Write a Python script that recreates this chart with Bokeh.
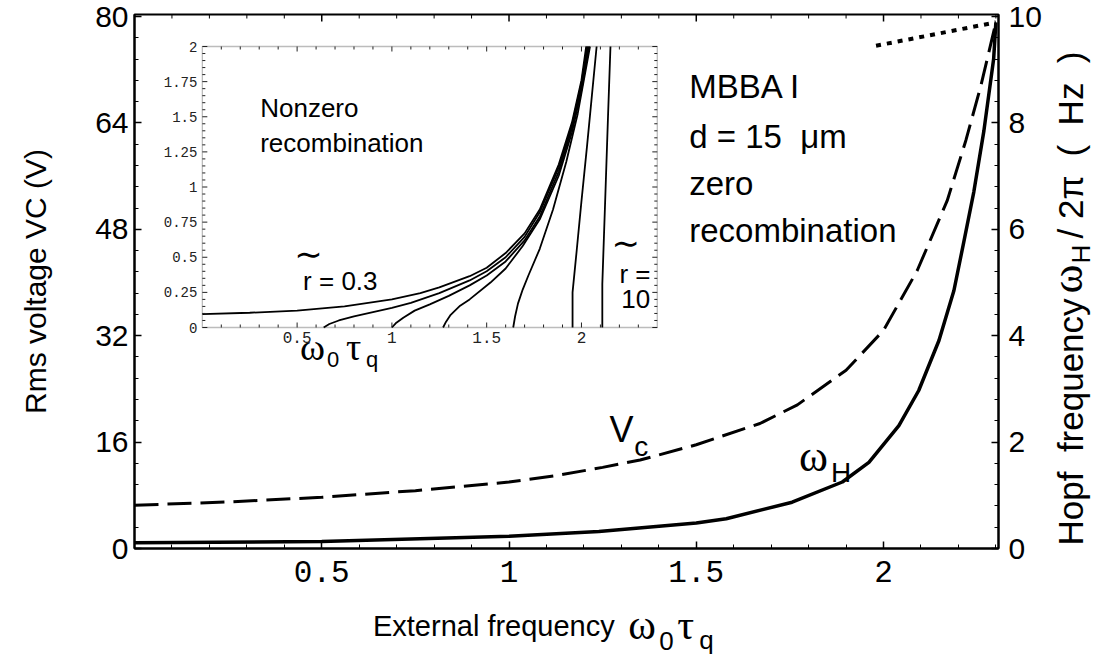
import numpy as np
from bokeh.plotting import figure
from bokeh.layouts import row, column
from bokeh.models import Range1d, LinearAxis, FixedTicker, Label, BoxAnnotation
from bokeh.embed import file_html
from bokeh.resources import INLINE
from bokeh.core.properties import value

# ---------------- main chart data ----------------
x_vc = [0.0, 0.25, 0.5, 0.75, 1.0, 1.13, 1.25, 1.35, 1.5, 1.67, 1.77, 1.9, 2.0, 2.09, 2.17, 2.22, 2.26, 2.30]
vc_volts = [6.5, 7.0, 7.7, 8.7, 10.0, 11.0, 12.2, 13.3, 15.6, 18.8, 21.6, 26.8, 32.8, 41.8, 52.3, 61.4, 69.6, 79.1]

x_wh = [0.0, 0.5, 1.0, 1.24, 1.5, 1.58, 1.756, 1.89, 1.961, 2.041, 2.094, 2.148, 2.188, 2.214, 2.241, 2.268, 2.294, 2.30]
wh_hz = [0.11, 0.13, 0.23, 0.32, 0.48, 0.56, 0.87, 1.25, 1.62, 2.31, 2.97, 3.91, 4.85, 5.75, 6.7, 7.85, 9.2, 9.89]

x_dot = [1.98, 2.30]
dot_hz = [9.45, 9.89]

x_ticks = [0.5, 1, 1.5, 2]
v_ticks = [0, 16, 32, 48, 64, 80]
hz_ticks = [0, 2, 4, 6, 8, 10]

# ---------------- inset data ----------------
c1x = [0, 0.25, 0.5, 0.75, 1.0, 1.15, 1.25, 1.41, 1.5, 1.6, 1.7, 1.78, 1.88, 1.95, 2.0, 2.025]
c1y = [0.095, 0.105, 0.12, 0.15, 0.2, 0.245, 0.285, 0.365, 0.425, 0.53, 0.67, 0.84, 1.16, 1.46, 1.76, 2.0]
c2x = [0.64, 0.67, 0.72, 0.8, 0.9, 1.0, 1.1, 1.25, 1.41, 1.5, 1.6, 1.7, 1.78, 1.88, 1.95, 2.0, 2.03]
c2y = [0.0, 0.025, 0.05, 0.08, 0.11, 0.14, 0.175, 0.245, 0.335, 0.4, 0.5, 0.645, 0.82, 1.14, 1.44, 1.74, 2.0]
c3x = [1.0, 1.02, 1.06, 1.12, 1.2, 1.3, 1.41, 1.5, 1.6, 1.7, 1.78, 1.88, 1.95, 2.0, 2.035]
c3y = [0.0, 0.03, 0.07, 0.12, 0.165, 0.225, 0.3, 0.37, 0.47, 0.62, 0.79, 1.11, 1.42, 1.72, 2.0]
c4x = [1.27, 1.285, 1.31, 1.36, 1.41, 1.52, 1.6, 1.69, 1.78, 1.88, 1.95, 2.0, 2.04]
c4y = [0.0, 0.04, 0.09, 0.155, 0.2, 0.32, 0.42, 0.58, 0.77, 1.08, 1.39, 1.69, 2.0]
c5x = [1.64, 1.65, 1.665, 1.69, 1.72, 1.78, 1.85, 1.92, 1.98, 2.045]
c5y = [0.0, 0.08, 0.17, 0.27, 0.37, 0.56, 0.84, 1.18, 1.52, 2.0]
c6x = [1.953, 1.953, 1.975, 2.0, 2.03, 2.055, 2.08]
c6y = [0.0, 0.25, 0.55, 0.9, 1.3, 1.65, 2.0]
c7x = [2.11, 2.11, 2.125, 2.14, 2.153]
c7y = [0.0, 0.31, 0.9, 1.5, 2.0]
inset_xs = [c1x, c2x, c3x, c4x, c5x, c6x, c7x]
inset_ys = [c1y, c2y, c3y, c4y, c5y, c6y, c7y]

inset_x_ticks = [0.5, 1, 1.5, 2]
inset_x_labels = ["0.5", "1", "1.5", "2"]
inset_y_ticks = [0, 0.25, 0.5, 0.75, 1, 1.25, 1.5, 1.75, 2]
inset_y_labels = ["0", "0.25", "0.5", "0.75", "1", "1.25", "1.5", "1.75", "2"]

# ---------------- geometry (page pixels) ----------------
W_MAIN, H_MAIN = 1044, 600
W_TOTAL, H_TOTAL = 1096, 657
X0, X1 = 0.0, 2.307
Y0, Y1 = 0.0, 80.3
FL, FR, FT, FB = 134, 1000, 14, 548
IX0, IX1, IY0, IY1 = 0.0, 2.4, 0.0, 2.0
ILEFT, IRIGHT, ITOP, IBOT = 202, 658, 46, 327
MID = 0.36   # baseline -> middle offset, in em

def mx(px):
    return X0 + (px - FL) * (X1 - X0) / (FR - FL)

def my(py):
    return Y0 + (FB - py) * (Y1 - Y0) / (FB - FT)

ipx = (IRIGHT - ILEFT) / (IX1 - IX0)
ipy = (IBOT - ITOP) / (IY1 - IY0)
ix_range = Range1d(IX0 - (ILEFT - FL) / ipx, IX0 + (FR - ILEFT) / ipx)
iy_range = Range1d(IY0 - (FB - IBOT) / ipy, IY0 + (IBOT - FT) / ipy)

SANS = "Liberation Sans"
MONO = "Liberation Mono"
SERIF = "Liberation Serif"
NB = "\u00a0"

p = figure(width=W_MAIN, height=H_MAIN, x_range=Range1d(X0, X1), y_range=Range1d(Y0, Y1),
           output_backend="svg", toolbar_location=None,
           min_border_left=FL, min_border_right=W_MAIN - FR,
           min_border_top=FT, min_border_bottom=H_MAIN - FB)
p.grid.visible = False
p.outline_line_color = "black"
p.outline_line_width = 2
p.extra_y_ranges = {"hz": Range1d(0, 10 * Y1 / 80.0), "iy": iy_range}
p.extra_x_ranges = {"ix": ix_range}

def style_axis(ax):
    ax.axis_line_color = "black"
    ax.axis_line_width = 2
    ax.major_tick_in = 7
    ax.major_tick_out = 0
    ax.minor_tick_in = 4
    ax.minor_tick_out = 0
    ax.major_tick_line_width = 1.5
    ax.minor_tick_line_width = 1
    ax.major_label_text_color = "black"
    ax.axis_label_text_color = "black"

x_minor = [t for t in np.round(np.arange(0.1, 2.31, 0.1), 2) if t not in x_ticks]
xa = p.xaxis[0]
xa.ticker = FixedTicker(ticks=x_ticks, minor_ticks=x_minor)
style_axis(xa)
xa.major_label_text_font = MONO
xa.major_label_text_font_size = "31px"
xa.major_label_standoff = 12

ya = p.yaxis[0]
ya.ticker = FixedTicker(ticks=v_ticks, minor_ticks=list(np.round(np.arange(0, 80.01, 3.2), 2)))
style_axis(ya)
ya.major_label_text_font = SANS
ya.major_label_text_font_size = "30px"
ya.major_label_standoff = 6
ya.axis_label = "Rms voltage VC (V)"
ya.axis_label_text_font = SANS
ya.axis_label_text_font_style = "normal"
ya.axis_label_text_font_size = "30px"
ya.axis_label_standoff = 40

ra = LinearAxis(y_range_name="hz",
                ticker=FixedTicker(ticks=hz_ticks, minor_ticks=list(np.round(np.arange(0, 10.01, 0.4), 2))))
style_axis(ra)
ra.major_label_text_font = SANS
ra.major_label_text_font_size = "30px"
ra.major_label_standoff = 10
p.add_layout(ra, "right")

# top frame ticks (inward)
ty_major = 7 * (Y1 - Y0) / (FB - FT)
ty_minor = 4 * (Y1 - Y0) / (FB - FT)
p.segment(x0=x_ticks, y0=[Y1] * len(x_ticks), x1=x_ticks, y1=[Y1 - ty_major] * len(x_ticks),
          line_color="black", line_width=1.5)
p.segment(x0=x_minor, y0=[Y1] * len(x_minor), x1=x_minor, y1=[Y1 - ty_minor] * len(x_minor),
          line_color="black", line_width=1)

# ---------------- main curves ----------------
p.line(x_vc, vc_volts, line_color="black", line_width=3, line_dash="24 9")
p.line(x_wh, wh_hz, y_range_name="hz", line_color="black", line_width=3.5)
p.line(x_dot, dot_hz, y_range_name="hz", line_color="black", line_width=4, line_dash="5 6")

# ---------------- inset ----------------
p.add_layout(BoxAnnotation(left=IX0, right=IX1, bottom=IY0, top=IY1,
                           x_range_name="ix", y_range_name="iy",
                           fill_alpha=0, line_color="#222222", line_width=1.3))
p.multi_line(inset_xs, inset_ys, x_range_name="ix", y_range_name="iy",
             line_color="black", line_width=1.8)

maj_x = 5 / ipy
min_x = 3 / ipy
maj_y = 5 / ipx
min_y = 3 / ipx
ix_minor = [t for t in np.round(np.arange(0.1, 2.4, 0.1), 2) if t not in inset_x_ticks]
iy_minor = [t for t in np.round(np.arange(0.05, 2.0, 0.05), 2) if t not in inset_y_ticks]

for vals, L in ((inset_x_ticks, maj_x), (ix_minor, min_x)):
    xs = list(vals) * 2
    y0 = [IY0] * len(vals) + [IY1] * len(vals)
    y1 = [IY0 + L] * len(vals) + [IY1 - L] * len(vals)
    p.segment(x0=xs, y0=y0, x1=xs, y1=y1, x_range_name="ix", y_range_name="iy",
              line_color="#222222", line_width=1)
for vals, L in ((inset_y_ticks, maj_y), (iy_minor, min_y)):
    ys = list(vals) * 2
    x0 = [IX0] * len(vals) + [IX1] * len(vals)
    x1 = [IX0 + L] * len(vals) + [IX1 - L] * len(vals)
    p.segment(x0=x0, y0=ys, x1=x1, y1=ys, x_range_name="ix", y_range_name="iy",
              line_color="#222222", line_width=1)

p.text(x=inset_x_ticks, y=[IY0] * len(inset_x_ticks), text=inset_x_labels,
       x_range_name="ix", y_range_name="iy", y_offset=4,
       text_font=value(MONO), text_font_size="16px", text_align="center",
       text_baseline="top", text_color="#222222")
p.text(x=[IX0] * len(inset_y_ticks), y=inset_y_ticks, text=inset_y_labels,
       x_range_name="ix", y_range_name="iy", x_offset=-5,
       text_font=value(MONO), text_font_size="14px", text_align="right",
       text_baseline="middle", text_color="#222222")

def lab(text, px, py, size, font=SANS):
    # py is the desired baseline in page pixels
    p.add_layout(Label(x=mx(px), y=my(py - MID * size), text=text, text_font=font,
                       text_font_size=f"{size}px", text_color="black",
                       text_align="left", text_baseline="middle"))

# inset texts
lab("Nonzero", 260, 117, 26)
lab("recombination", 260, 152, 26)
lab("∼", 294, 266, 34, font="DejaVu Sans")
lab("r = 0.3", 303, 290, 26)
lab("∼", 612, 255, 34, font="DejaVu Sans")
lab("r =", 620, 283, 26)
lab("10", 622, 308, 26)
lab("ω", 300, 360, 38, font=SERIF)
lab("0", 327, 367, 22)
lab("τ", 346, 360, 38, font=SERIF)
lab("q", 366, 367, 22)

# main texts
lab("MBBA I", 690, 98, 33)
lab("d = 15" + NB + NB + "μm", 690, 148, 33)
lab("zero", 690, 195, 33)
lab("recombination", 690, 242, 33)
lab("V", 610, 442, 36)
lab("c", 635, 456, 28)
lab("ω", 800, 472, 44, font=SERIF)
lab("H", 832, 482, 28)

# ---------------- x axis label strip (frame aligned with main frame) ----------------
bx = figure(width=W_MAIN, height=H_TOTAL - H_MAIN, x_range=Range1d(X0, X1),
            y_range=Range1d(H_TOTAL, H_MAIN), output_backend="svg", toolbar_location=None,
            x_axis_location=None, y_axis_location=None, min_border=0,
            min_border_left=FL, min_border_right=W_MAIN - FR)
bx.grid.visible = False
bx.outline_line_color = None
bx_text = ["External frequency", "ω", "0", "τ", "q"]
bx_x = [373, 629, 660, 678, 700]
bx_base = [636, 640, 650, 640, 649]
bx_size = [29, 42, 26, 42, 26]
bx_font = [SANS, SERIF, SANS, SERIF, SANS]
for t, xx, yy, s, f in zip(bx_text, bx_x, bx_base, bx_size, bx_font):
    bx.text(x=[mx(xx)], y=[yy - MID * s], text=[t], text_font=value(f), text_font_size=f"{s}px",
            text_color="black", text_align="left", text_baseline="middle")

# ---------------- right axis label strip (page coords) ----------------
rx = figure(width=W_TOTAL - W_MAIN, height=H_TOTAL, x_range=Range1d(W_MAIN, W_TOTAL),
            y_range=Range1d(H_TOTAL, 0), output_backend="svg", toolbar_location=None,
            x_axis_location=None, y_axis_location=None, min_border=0)
rx.grid.visible = False
rx.outline_line_color = None
rx_text = ["Hopf" + NB + NB + "frequency", "ω", "H", "/" + NB + "2π", "(" + NB + NB + "Hz" + NB + NB + ")"]
rx_base = [1083, 1083, 1090, 1083, 1083]
rx_start = [545, 293, 263, 238, 156]
rx_size = [35, 44, 26, 35, 35]
rx_font = [SANS, SERIF, SANS, SANS, SANS]
for t, xx, yy, s, f in zip(rx_text, rx_base, rx_start, rx_size, rx_font):
    rx.text(x=[xx - MID * s], y=[yy], text=[t], text_font=value(f), text_font_size=f"{s}px",
            angle=np.pi / 2, text_color="black", text_align="left", text_baseline="middle")

layout = row(column(p, bx), rx)
open("out.html", "w").write(file_html(layout, INLINE))
